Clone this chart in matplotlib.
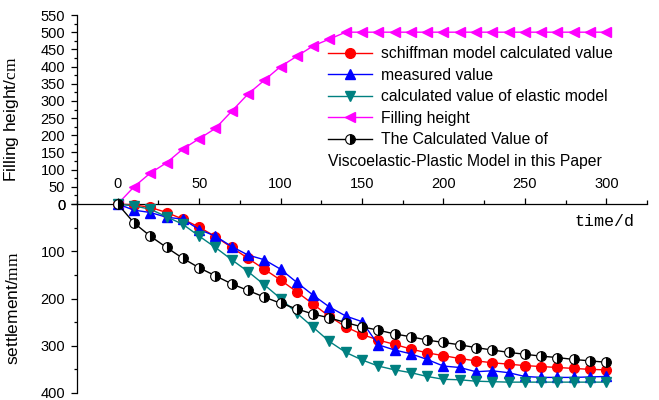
import numpy as np
import matplotlib
matplotlib.use("Agg")
import matplotlib.pyplot as plt
from matplotlib.ticker import MultipleLocator

plt.rcParams['font.family'] = ['Liberation Sans', 'DejaVu Sans']
plt.rcParams['mathtext.fontset'] = 'custom'
plt.rcParams['mathtext.rm'] = 'Liberation Serif'

# time in days
t = np.arange(0, 301, 10)

filling = [0, 50, 90, 120, 160, 190, 220, 270, 320, 360, 400, 430, 460, 480,
           500, 500, 500, 500, 500, 500, 500, 500, 500, 500, 500, 500, 500,
           500, 500, 500, 500]
schiffman = [0, 2, 7, 18, 32, 49, 69, 92, 115, 138, 161, 186, 212, 238,
             260, 276, 288, 297, 307, 315, 321, 327, 332, 336, 339, 342, 344,
             346, 348, 350, 351]
measured = [0, 13, 18, 28, 32, 54, 68, 90, 108, 118, 138, 166, 193, 218,
            237, 249, 298, 309, 317, 329, 343, 346, 355, 353, 357, 365, 367,
            367, 367, 366, 365]
elastic = [0, 4, 11, 27, 43, 68, 92, 118, 143, 171, 200, 231, 261, 291,
           314, 330, 343, 351, 357, 365, 371, 372, 375, 376, 377, 377, 377,
           377, 377, 377, 377]
visco = [0, 40, 68, 92, 115, 135, 152, 169, 183, 197, 210, 222, 233, 241,
         251, 260, 267, 275, 281, 288, 293, 298, 304, 309, 314, 318, 322,
         325, 329, 332, 335]

W, H = 659, 400
fig = plt.figure(figsize=(W / 100, H / 100), dpi=100)

left = 77 / W
width = 570 / W
ax1 = fig.add_axes([left, (H - 204) / H, width, 189 / H])
ax2 = fig.add_axes([left, (H - 393) / H, width, 189 / H], sharex=ax1)

ms = 7
l1, = ax2.plot(t, schiffman, '-o', color='#FF0000', ms=ms, lw=1, clip_on=False,
               label='schiffman model calculated value')
l2, = ax2.plot(t, measured, '-^', color='#0000FF', ms=ms, lw=1, clip_on=False,
               label='measured value')
l3, = ax2.plot(t, elastic, '-v', color='#008080', ms=ms, lw=1, clip_on=False,
               label='calculated value of elastic model')
l4, = ax1.plot(t, filling, '-<', color='#FF00FF', ms=ms, lw=1, clip_on=False,
               label='Filling height')
l5, = ax2.plot(t, visco, '-o', color='black', ms=ms, lw=1, clip_on=False,
               fillstyle='right', markerfacecoloralt='white',
               markeredgecolor='black', mew=0.8,
               label='The Calculated Value of')

ax1.set_xlim(-25, 325)
ax1.set_ylim(0, 550)
ax2.set_ylim(400, 0)

for s in ['top', 'right']:
    ax1.spines[s].set_visible(False)
for s in ['top', 'right', 'bottom']:
    ax2.spines[s].set_visible(False)
for ax in (ax1, ax2):
    for s in ax.spines.values():
        s.set_linewidth(0.9)

ax1.xaxis.set_major_locator(MultipleLocator(50))
ax1.xaxis.set_minor_locator(MultipleLocator(25))
ax1.tick_params(axis='x', which='major', direction='in', length=4, width=0.9,
                pad=-19.5, labelsize=10.5)
ax1.tick_params(axis='x', which='minor', direction='in', length=3, width=0.9)
ax2.tick_params(axis='x', which='both', bottom=False, labelbottom=False)

ax1.yaxis.set_major_locator(MultipleLocator(50))
ax1.yaxis.set_minor_locator(MultipleLocator(25))
ax2.yaxis.set_major_locator(MultipleLocator(100))
ax2.yaxis.set_minor_locator(MultipleLocator(50))
for ax in (ax1, ax2):
    ax.tick_params(axis='y', which='major', direction='out', length=4.5,
                   width=0.9, pad=4, labelsize=10.5)
    ax.tick_params(axis='y', which='minor', direction='out', length=2.5,
                   width=0.9)
    ax.patch.set_alpha(0)

ax1.set_ylabel(r'Filling height/$\mathrm{cm}$', fontsize=12.5)
ax2.set_ylabel(r'settlement/$\mathrm{mm}$', fontsize=12.5)
ax1.yaxis.set_label_coords(-56 / 570, 0.45)
ax2.yaxis.set_label_coords(-56 / 570, 0.45)

fig.text(575 / W, 1 - 221 / H, 'time/d', family='Liberation Mono',
         fontsize=12, va='center', ha='left')

fig.legend(handles=[l1, l2, l3, l4, l5], loc='upper left',
           bbox_to_anchor=(328 / W, 1 - 46 / H), bbox_transform=fig.transFigure,
           frameon=False, fontsize=11.3, handlelength=2.8, handletextpad=0.55,
           labelspacing=0.42, borderpad=0, borderaxespad=0)
fig.text(328 / W, 1 - 161 / H, 'Viscoelastic-Plastic Model in this Paper',
         fontsize=11.3, va='center', ha='left')

fig.savefig('out.png', dpi=100)
